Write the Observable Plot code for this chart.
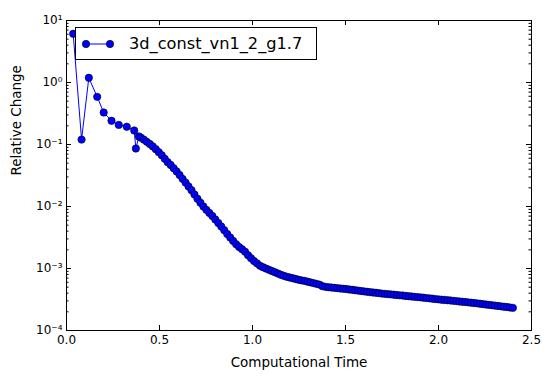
<!DOCTYPE html>
<html><head><meta charset="utf-8">
<script src="https://cdn.jsdelivr.net/npm/d3@7"></script>
<script src="https://cdn.jsdelivr.net/npm/@observablehq/plot@0.6"></script>
<style>
body{margin:0;background:#fff;font-family:"DejaVu Sans",sans-serif;}
#wrap{position:relative;width:552px;height:380px;}
#legend{position:absolute;left:75px;top:27px;width:240px;height:31px;border:1px solid #000;background:#fff;z-index:2;}
#legend svg{position:absolute;left:0;top:0;}
#legend span{position:absolute;left:53px;top:0;line-height:31px;font-size:16.2px;color:#000;white-space:nowrap;}
</style></head><body>
<div id="wrap"></div>
<script>
const seriesName = "3d_const_vn1_2_g1.7";
const xLabel = "Computational Time";
const yLabel = "Relative Change";
const xTicks = [0, 0.5, 1.0, 1.5, 2.0, 2.5];
const yTicks = [1e-4, 1e-3, 1e-2, 1e-1, 1, 10];
const yTickLabels = ["10\u207B\u2074", "10\u207B\u00B3", "10\u207B\u00B2", "10\u207B\u00B9", "10\u2070", "10\u00B9"];

const times = [0.036,0.081,0.12,0.165,0.2,0.242,0.281,0.324,0.364,0.373,0.389,
0.400,0.416,0.432,0.448,0.464,0.480,0.496,0.512,0.528,0.544,
0.560,0.576,0.592,0.608,0.624,0.640,0.656,0.672,0.688,0.704,
0.720,0.736,0.752,0.768,0.784,0.800,0.816,0.832,0.848,0.864,
0.880,0.896,0.912,0.928,0.944,0.960,0.976,0.992,1.008,1.024,
1.040,1.056,1.072,1.088,1.104,1.120,1.136,1.152,1.168,1.184,
1.200,1.216,1.232,1.248,1.264,1.280,1.296,1.312,1.328,1.344,
1.360,1.376,1.392,1.408,1.424,1.440,1.456,1.472,1.488,1.504,
1.520,1.536,1.552,1.568,1.584,1.600,1.616,1.632,1.648,1.664,
1.680,1.696,1.712,1.728,1.744,1.760,1.776,1.792,1.808,1.824,
1.840,1.856,1.872,1.888,1.904,1.920,1.936,1.952,1.968,1.984,
2.000,2.016,2.032,2.048,2.064,2.080,2.096,2.112,2.128,2.144,
2.160,2.176,2.192,2.208,2.224,2.240,2.256,2.272,2.288,2.304,
2.320,2.336,2.352,2.368,2.384,2.400];

const changes = [6.1,0.12,1.19,0.587,0.328,0.241,0.207,0.193,0.168,0.086,0.135,
0.129,0.1197,0.1104,0.1016,0.0931,0.0841,0.0753,0.0670,0.0589,0.0518,
0.0468,0.0415,0.0368,0.0322,0.0279,0.0243,0.0211,0.0183,0.0156,0.0133,
0.0115,0.0100,0.00883,0.00787,0.00702,0.00617,0.00542,0.00476,0.00415,0.00360,
0.00316,0.00278,0.00246,0.00222,0.00204,0.00186,0.00164,0.00146,0.00132,0.00121,
0.00111,0.00105,0.00100,0.000955,0.000912,0.000871,0.000832,0.000794,0.000762,0.000736,
0.000716,0.000697,0.000678,0.000659,0.000643,0.000631,0.000614,0.000597,0.000581,0.000565,
0.000550,0.000519,0.000506,0.000499,0.000493,0.000488,0.000482,0.000476,0.000472,0.000466,
0.000459,0.000453,0.000446,0.000440,0.000433,0.000427,0.000421,0.000416,0.000410,0.000406,
0.000400,0.000394,0.000390,0.000386,0.000382,0.000378,0.000373,0.000369,0.000366,0.000361,
0.000357,0.000353,0.000349,0.000346,0.000342,0.000338,0.000333,0.000330,0.000326,0.000321,
0.000318,0.000314,0.000311,0.000308,0.000305,0.000301,0.000298,0.000294,0.000291,0.000288,
0.000284,0.000281,0.000277,0.000274,0.000270,0.000266,0.000262,0.000259,0.000255,0.000252,
0.000249,0.000245,0.000242,0.000239,0.000235,0.000232];

const decades = [1e-4, 1e-3, 1e-2, 1e-1, 1];
const minorMult = [2,3,4,5,6,7,8,9];
const yMinor = decades.flatMap(d => minorMult.map(m => m * d));

const data = times.map((t, i) => ({t, v: changes[i]}));

const W = 552, H = 380, mL = 66, mR = 21, mT = 20, mB = 50;
const fw = W - mL - mR, fh = H - mT - mB;
const blue = "#0000ff";

const chart = Plot.plot({
  width: W, height: H,
  marginLeft: mL, marginRight: mR, marginTop: mT, marginBottom: mB,
  style: {fontFamily: "DejaVu Sans", fontSize: "12px", color: "#000", background: "#fff", overflow: "visible"},
  x: {domain: [0, 2.5]},
  y: {type: "log", domain: [1e-4, 10]},
  marks: [
    Plot.axisX(xTicks, {tickSize: 0, tickPadding: 5, tickFormat: d3.format(".1f"), label: null, fontSize: 12}),
    Plot.axisY(yTicks, {tickSize: 0, tickPadding: 4, tickFormat: d => yTickLabels[yTicks.indexOf(d)], label: null, fontSize: 12, dy: 0}),
    Plot.line(data, {x: "t", y: "v", stroke: blue, strokeWidth: 1}),
    Plot.dot(data, {x: "t", y: "v", r: 3.7, fill: blue, stroke: "#000", strokeWidth: 0.6}),
    Plot.ruleX(xTicks, {x: d => d, insetTop: fh - 5, stroke: "#000"}),
    Plot.ruleX(xTicks, {x: d => d, insetBottom: fh - 5, stroke: "#000"}),
    Plot.ruleY(yTicks, {y: d => d, insetRight: fw - 5, stroke: "#000"}),
    Plot.ruleY(yTicks, {y: d => d, insetLeft: fw - 5, stroke: "#000"}),
    Plot.ruleY(yMinor, {y: d => d, insetRight: fw - 2.5, stroke: "#000"}),
    Plot.ruleY(yMinor, {y: d => d, insetLeft: fw - 2.5, stroke: "#000"}),
    Plot.frame({stroke: "#000", strokeWidth: 1}),
    Plot.text([xLabel], {frameAnchor: "bottom", dy: 36, text: d => d, fontSize: 13.5}),
    Plot.text([yLabel], {frameAnchor: "left", dx: -50, rotate: -90, text: d => d, fontSize: 13.5})
  ]
});
const wrap = document.getElementById("wrap");
wrap.appendChild(chart);

const legend = document.createElement("div");
legend.id = "legend";
legend.innerHTML = `<svg width="50" height="31"><line x1="10" y1="16" x2="34" y2="16" stroke="${blue}" stroke-width="1"/>
<circle cx="10" cy="16" r="3.7" fill="${blue}" stroke="#000" stroke-width="0.6"/>
<circle cx="34" cy="16" r="3.7" fill="${blue}" stroke="#000" stroke-width="0.6"/></svg><span></span>`;
legend.querySelector("span").textContent = seriesName;
wrap.appendChild(legend);
</script>
</body></html>
